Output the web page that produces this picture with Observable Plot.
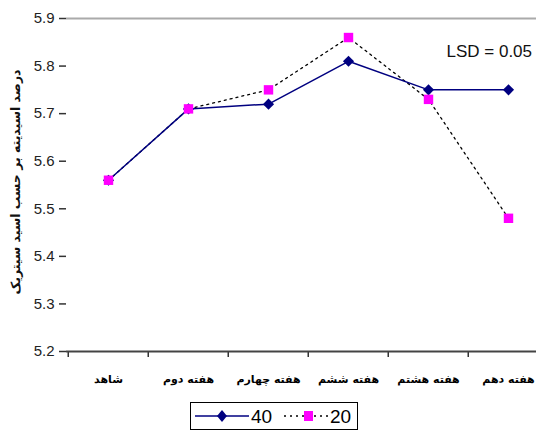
<!DOCTYPE html>
<html><head><meta charset="utf-8">
<script src="https://cdn.jsdelivr.net/npm/d3@7"></script>
<script src="https://cdn.jsdelivr.net/npm/@observablehq/plot@0.6"></script>
<style>
body{margin:0;background:#fff;font-family:"Liberation Sans",Arial,sans-serif;}
#chart{position:relative;width:536px;height:434px;overflow:hidden;}
#legend{position:absolute;left:190px;top:402px;width:166px;height:26px;border:1px solid #000;display:flex;align-items:center;}
</style></head><body>
<div id="chart"></div>
<script>
const weeks = ["شاهد","هفته دوم","هفته چهارم","هفته ششم","هفته هشتم","هفته دهم"];
const s40 = [5.56, 5.71, 5.72, 5.81, 5.75, 5.75];
const s20 = [5.56, 5.71, 5.75, 5.86, 5.73, 5.48];
const yTicks = [5.2,5.3,5.4,5.5,5.6,5.7,5.8,5.9];
const yLabel = "درصد اسیدیته بر حسب اسید سیتریک";
const note = "LSD = 0.05";

const d40 = weeks.map((w,i)=>({week:w, v:s40[i]}));
const d20 = weeks.map((w,i)=>({week:w, v:s20[i]}));
const narrow = "'Liberation Sans Narrow', 'Arial Narrow', 'Liberation Sans', Arial, sans-serif";

const plot = Plot.plot({
  width: 536, height: 398,
  marginLeft: 66, marginTop: 18, marginBottom: 47, marginRight: 0,
  style: {fontFamily: "'Liberation Sans', Arial, sans-serif", background: "#fff"},
  x: {type: "band", domain: weeks, range: [66, 549], padding: 0, label: null},
  y: {domain: [5.2, 5.9], range: [351, 18], ticks: yTicks, label: null},
  marks: [
    Plot.ruleY([5.9], {stroke: "#aaa", strokeWidth: 2}),
    Plot.axisX({tickSize: 6, tickFormat: () => "", dx: -40.25, stroke: "#333", strokeWidth: 1.5, label: null}),
    Plot.ruleY([5.2], {stroke: "#444", strokeWidth: 2}),
    Plot.ruleX([66], {stroke: "#444", strokeWidth: 2}),
    Plot.axisY({ticks: yTicks, tickFormat: d3.format(".1f"), tickSize: 7, tickPadding: 5, fontSize: 15, fontFamily: narrow, fill: "#222", stroke: "#333", strokeWidth: 1.5, label: null}),
    Plot.axisX({tickSize: 0, tickPadding: 24, fontSize: 11, fontWeight: "bold", fontFamily: "'DejaVu Sans', sans-serif", label: null}),
    Plot.line(d20, {x: "week", y: "v", stroke: "#000", strokeDasharray: "2,4", strokeWidth: 1.3}),
    Plot.line(d40, {x: "week", y: "v", stroke: "#000080", strokeWidth: 1.5}),
    Plot.dot(d40, {x: "week", y: "v", symbol: "diamond2", fill: "#000080", r: 5}),
    Plot.dot(d20, {x: "week", y: "v", symbol: "square2", fill: "#ff00ff", r: 6}),
    Plot.text([note], {frameAnchor: "top", dy: 26, text: d=>d, fontSize: 17, fontFamily: narrow, fill: "#111", textAnchor: "start", x: ()=>weeks[5], dx: -62})
  ]
});
const svg = d3.select(plot);
svg.append("text")
  .attr("transform", "translate(20,182) rotate(-90)")
  .attr("text-anchor", "middle")
  .attr("font-family", "'DejaVu Sans', sans-serif")
  .attr("font-weight", "bold")
  .attr("font-size", 12.5)
  .attr("fill", "#111")
  .text(yLabel);
document.getElementById("chart").appendChild(plot);

const leg = document.createElement("div");
leg.id = "legend";
leg.innerHTML = `<svg width="166" height="26">
 <line x1="4" y1="13" x2="58" y2="13" stroke="#000080" stroke-width="1.5"/>
 <path d="M31,7 L36,13 L31,19 L26,13 Z" fill="#000080"/>
 <text x="60" y="20" font-size="19" font-family="${narrow}">40</text>
 <line x1="93" y1="13" x2="138" y2="13" stroke="#000" stroke-dasharray="2,4" stroke-width="1.3"/>
 <rect x="113" y="8" width="9" height="10" fill="#ff00ff"/>
 <text x="139" y="20" font-size="19" font-family="${narrow}">20</text>
</svg>`;
document.getElementById("chart").appendChild(leg);
</script>
</body></html>
